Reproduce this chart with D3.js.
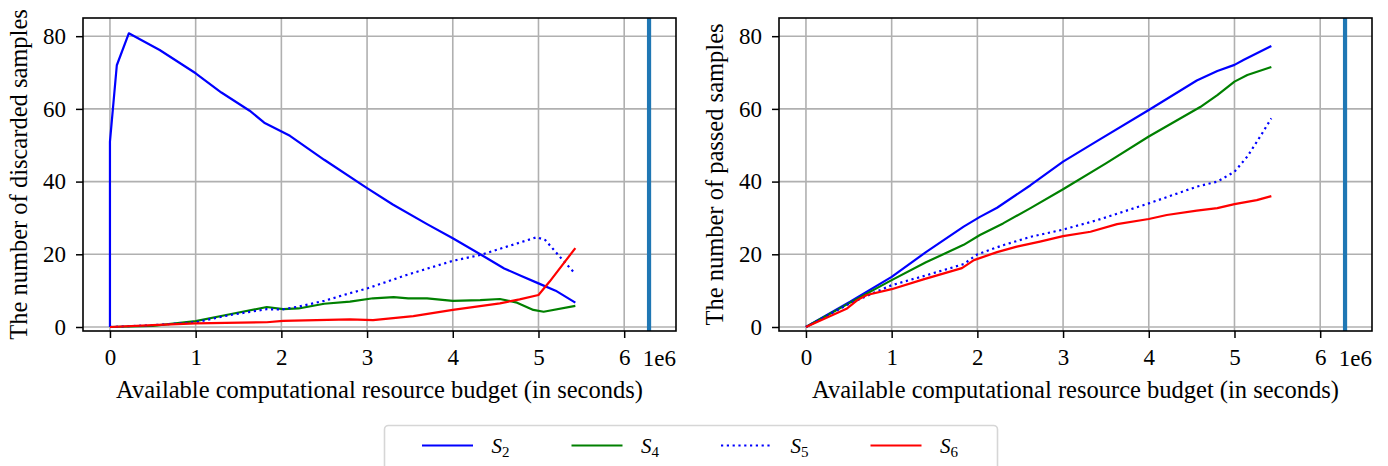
<!DOCTYPE html>
<html>
<head>
<meta charset="utf-8">
<script src="https://cdn.jsdelivr.net/npm/d3@7/dist/d3.min.js"></script>
<style>
  html, body { margin: 0; padding: 0; background: #fff; }
  svg { display: block; font-family: "Liberation Serif", "Times New Roman", serif; }
  svg text { font-family: "Liberation Serif", "Times New Roman", serif; }
</style>
</head>
<body>
<svg id="chart" width="1388" height="466"></svg>
<script>
// Budget values are in units of 1e6 seconds.
const budgetLimit = 6.29;

// Discarded samples
const discS2x = [0, 0.0, 0.08, 0.22, 0.58, 1.0, 1.3, 1.63, 1.8, 2.1, 2.5, 3.0, 3.3, 3.7, 4.0, 4.35, 4.6, 4.8, 5.0, 5.2, 5.43];
const discS2y = [0, 51, 72, 80.8, 76.2, 69.8, 64.5, 59.5, 56.2, 52.6, 46.0, 38.2, 33.7, 28.3, 24.4, 19.6, 16.1, 14.0, 12.0, 10.0, 6.7];
const discS4x = [0, 0.5, 1.0, 1.4, 1.83, 2.02, 2.2, 2.5, 2.8, 3.07, 3.31, 3.48, 3.7, 4.0, 4.32, 4.55, 4.75, 4.94, 5.06, 5.43];
const discS4y = [0, 0.3, 1.6, 3.5, 5.5, 4.9, 5.1, 6.4, 7.0, 7.9, 8.2, 7.9, 7.9, 7.2, 7.4, 7.7, 6.7, 4.7, 4.2, 5.8];
const discS5x = [0, 0.5, 1.0, 1.4, 1.83, 2.0, 2.2, 2.5, 2.8, 3.0, 3.46, 4.0, 4.32, 4.63, 4.98, 5.08, 5.25, 5.43];
const discS5y = [0, 0.5, 1.3, 3.3, 4.9, 4.8, 5.6, 7.2, 9.3, 10.6, 14.3, 18.2, 19.8, 22.1, 24.7, 23.9, 19.3, 14.6];
const discS6x = [0, 0.5, 1.0, 1.83, 2.02, 2.8, 3.07, 3.54, 4.0, 4.55, 4.78, 5.0, 5.13, 5.43];
const discS6y = [0, 0.5, 1.0, 1.3, 1.7, 2.1, 1.9, 3.0, 4.7, 6.5, 7.6, 8.8, 12.5, 21.7];

// Passed samples
const passS2x = [0, 0.52, 1.0, 1.4, 1.84, 2.03, 2.23, 2.62, 3.0, 3.4, 4.0, 4.56, 4.8, 5.0, 5.11, 5.43];
const passS2y = [0, 7.0, 13.8, 20.6, 27.6, 30.3, 32.8, 39.0, 45.5, 51.2, 59.7, 67.8, 70.4, 72.1, 73.5, 77.3];
const passS4x = [0, 0.5, 1.0, 1.4, 1.84, 2.03, 2.3, 2.62, 3.0, 3.5, 4.0, 4.6, 4.8, 5.0, 5.15, 5.43];
const passS4y = [0, 6.5, 12.9, 17.8, 22.6, 25.3, 28.5, 32.7, 37.9, 45.0, 52.4, 60.5, 63.8, 67.5, 69.3, 71.5];
const passS5x = [0, 0.5, 0.8, 1.0, 1.4, 1.84, 2.0, 2.3, 2.62, 3.0, 3.4, 4.0, 4.56, 4.8, 5.0, 5.15, 5.3, 5.43];
const passS5y = [0, 6.3, 9.5, 11.5, 14.2, 17.3, 20.0, 22.5, 24.8, 26.8, 29.4, 34.0, 38.6, 40.0, 42.7, 46.9, 52.4, 57.4];
const passS6x = [0, 0.48, 0.6, 0.71, 1.0, 1.37, 1.82, 1.96, 2.23, 2.46, 2.73, 3.0, 3.32, 3.63, 4.0, 4.21, 4.56, 4.8, 5.0, 5.26, 5.43];
const passS6y = [0, 5.1, 7.4, 8.8, 10.4, 13.1, 16.2, 18.4, 20.6, 22.1, 23.5, 25.0, 26.2, 28.3, 29.7, 30.8, 32.0, 32.7, 33.8, 34.9, 36.0];

const xTicks = [0, 1, 2, 3, 4, 5, 6];
const yTicks = [0, 20, 40, 60, 80];
const seriesNames = ["2", "4", "5", "6"];
const seriesColors = ["#0000ff", "#008000", "#0000ff", "#ff0000"];
const seriesDash = [null, null, "2.2,3.6", null];

const zip = (xs, ys) => xs.map((x, i) => ({ x, y: ys[i] }));

const panels = [
  {
    left: 83, ylabel: "The number of discarded samples", ylabelX: 27,
    series: [zip(discS2x, discS2y), zip(discS4x, discS4y), zip(discS5x, discS5y), zip(discS6x, discS6y)]
  },
  {
    left: 779, ylabel: "The number of passed samples", ylabelX: 723,
    series: [zip(passS2x, passS2y), zip(passS4x, passS4y), zip(passS5x, passS5y), zip(passS6x, passS6y)]
  }
];

const svg = d3.select("#chart");
const plotW = 593, plotTop = 18, plotBottom = 331;
const tickFont = 23, labelFont = 24.5;
const serif = "Liberation Serif";

panels.forEach(p => {
  const x = d3.scaleLinear().domain([-0.3145, 6.6045]).range([p.left, p.left + plotW]);
  const y = d3.scaleLinear().domain([-1.1, 85]).range([plotBottom, plotTop]);
  const g = svg.append("g");

  // grid
  g.append("g").selectAll("line").data(xTicks).join("line")
    .attr("x1", d => x(d)).attr("x2", d => x(d)).attr("y1", plotTop).attr("y2", plotBottom)
    .attr("stroke", "#b0b0b0").attr("stroke-width", 1.6);
  g.append("g").selectAll("line").data(yTicks).join("line")
    .attr("y1", d => y(d)).attr("y2", d => y(d)).attr("x1", p.left).attr("x2", p.left + plotW)
    .attr("stroke", "#b0b0b0").attr("stroke-width", 1.6);

  // series
  const line = d3.line().x(d => x(d.x)).y(d => y(d.y));
  p.series.forEach((s, i) => {
    g.append("path").datum(s).attr("d", line)
      .attr("fill", "none").attr("stroke", seriesColors[i]).attr("stroke-width", 2.2)
      .attr("stroke-linejoin", "round")
      .attr("stroke-dasharray", seriesDash[i]);
  });

  // budget limit
  g.append("line").attr("x1", x(budgetLimit)).attr("x2", x(budgetLimit))
    .attr("y1", plotTop).attr("y2", plotBottom)
    .attr("stroke", "#1f77b4").attr("stroke-width", 4.2);

  // axes
  const xAxis = d3.axisBottom(x).tickValues(xTicks).tickFormat(d3.format("d")).tickSize(7).tickPadding(11);
  const yAxis = d3.axisLeft(y).tickValues(yTicks).tickSize(7).tickPadding(10);
  const gx = g.append("g").attr("transform", `translate(0,${plotBottom})`).call(xAxis);
  const gy = g.append("g").attr("transform", `translate(${p.left},0)`).call(yAxis);
  [gx, gy].forEach(a => {
    a.attr("font-family", serif).attr("font-size", tickFont);
    a.select(".domain").remove();
    a.selectAll(".tick line").attr("stroke", "#000").attr("stroke-width", 1.5);
    a.selectAll(".tick text").attr("fill", "#000");
  });

  // frame
  g.append("rect").attr("x", p.left).attr("y", plotTop).attr("width", plotW).attr("height", plotBottom - plotTop)
    .attr("fill", "none").attr("stroke", "#000").attr("stroke-width", 1.6);

  // offset text
  g.append("text").attr("x", p.left + plotW).attr("y", 365.5).attr("text-anchor", "end")
    .attr("font-family", serif).attr("font-size", tickFont).text("1e6");

  // labels
  g.append("text").attr("x", p.left + plotW / 2).attr("y", 397.5).attr("text-anchor", "middle")
    .attr("font-family", serif).attr("font-size", labelFont)
    .text("Available computational resource budget (in seconds)");
  g.append("text")
    .attr("transform", `translate(${p.ylabelX},${(plotTop + plotBottom) / 2}) rotate(-90)`)
    .attr("text-anchor", "middle").attr("font-family", serif).attr("font-size", labelFont)
    .text(p.ylabel);
});

// legend
const lg = svg.append("g");
lg.append("rect").attr("x", 384.5).attr("y", 425.5).attr("width", 613).attr("height", 60)
  .attr("rx", 4).attr("fill", "#fff").attr("stroke", "#d6d6d6").attr("stroke-width", 1.6);
seriesNames.forEach((n, i) => {
  const x0 = 422 + i * 149.5;
  lg.append("line").attr("x1", x0).attr("x2", x0 + 51).attr("y1", 445.5).attr("y2", 445.5)
    .attr("stroke", seriesColors[i]).attr("stroke-width", 2.2)
    .attr("stroke-dasharray", seriesDash[i]);
  const t = lg.append("text").attr("x", x0 + 69.5).attr("y", 452.7)
    .attr("font-family", serif).attr("font-size", 21);
  t.append("tspan").attr("font-style", "italic").text("S");
  t.append("tspan").attr("dy", 4).attr("font-size", 15).text(n);
});
</script>
</body>
</html>
